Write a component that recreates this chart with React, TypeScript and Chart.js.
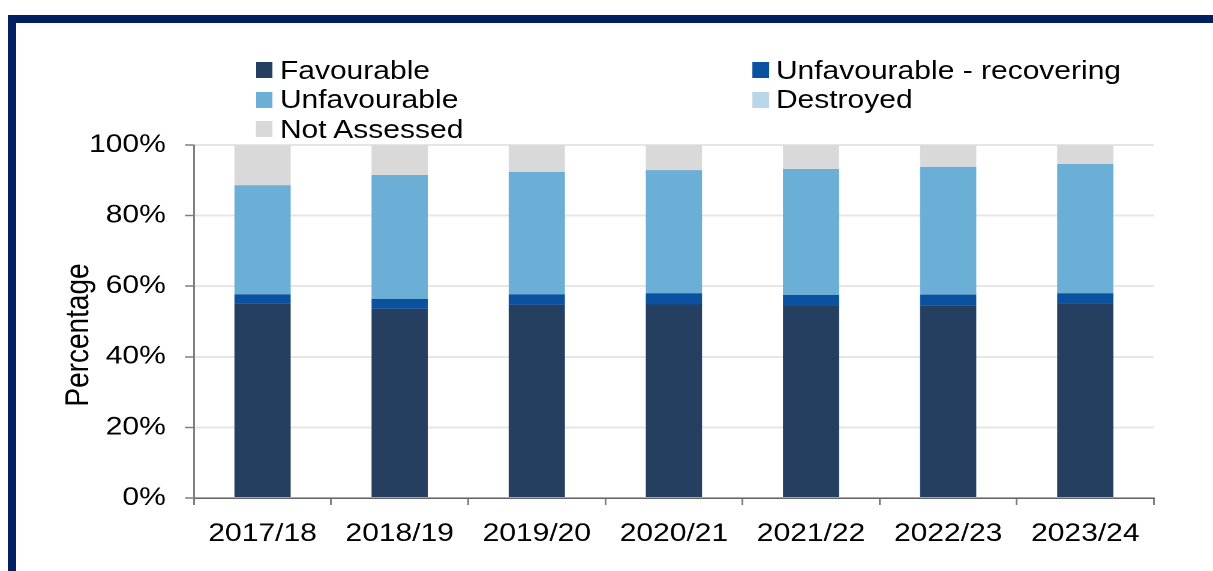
import React, { useEffect, useRef } from "react";
import { Chart, registerables } from "chart.js";

Chart.register(...registerables);

const categories = ["2017/18", "2018/19", "2019/20", "2020/21", "2021/22", "2022/23", "2023/24"];
const favourable = [55.0, 53.6, 54.7, 54.8, 54.4, 54.6, 55.2];
const unfavourableRecovering = [2.7, 2.8, 3.0, 3.2, 3.1, 3.0, 2.8];
const unfavourable = [30.9, 35.1, 34.7, 34.9, 35.7, 36.2, 36.6];
const destroyed = [0, 0, 0, 0, 0, 0, 0];
const notAssessed = [11.4, 8.5, 7.6, 7.1, 6.8, 6.2, 5.4];
const yTickValues = [0, 20, 40, 60, 80, 100];
const yTitle = "Percentage";

const seriesNames = ["Favourable", "Unfavourable - recovering", "Unfavourable", "Destroyed", "Not Assessed"];
const seriesColors = ["#253F60", "#0A51A0", "#6BAED6", "#B9D6EA", "#D9D9D9"];

const STRETCH = 1213 / 1011;
const FONT = "'Liberation Sans', Arial, sans-serif";

const yTitlePlugin = {
  id: "yTitlePlugin",
  afterDraw(chart: any) {
    const ctx = chart.ctx;
    ctx.save();
    ctx.translate(65.8, 335);
    ctx.rotate(-Math.PI / 2);
    ctx.font = `28px ${FONT}`;
    ctx.fillStyle = "#000";
    ctx.textAlign = "center";
    ctx.textBaseline = "middle";
    ctx.fillText(yTitle, 0, 0);
    ctx.restore();
  },
};

export default function App() {
  const canvasRef = useRef<HTMLCanvasElement | null>(null);

  useEffect(() => {
    if (!canvasRef.current) return;
    const series = [favourable, unfavourableRecovering, unfavourable, destroyed, notAssessed];
    const chart = new Chart(canvasRef.current, {
      type: "bar",
      data: {
        labels: categories,
        datasets: series.map((d, i) => ({
          label: seriesNames[i],
          data: d,
          backgroundColor: seriesColors[i],
          borderWidth: 0,
          barPercentage: 0.41,
          categoryPercentage: 1,
        })),
      },
      options: {
        animation: false,
        responsive: true,
        maintainAspectRatio: false,
        devicePixelRatio: 2,
        layout: { padding: { top: 145, right: 49.3, bottom: 10, left: 0 } },
        plugins: { legend: { display: false }, tooltip: { enabled: false } },
        scales: {
          x: {
            stacked: true,
            grid: {
              offset: true,
              drawOnChartArea: false,
              tickLength: 7,
              color: "#7f7f7f",
              lineWidth: 1.5,
            },
            border: { color: "#666", width: 1.5 },
            ticks: {
              color: "#000",
              padding: 14,
              font: { family: FONT, size: 25 },
              maxRotation: 0,
            },
            afterFit: (s: any) => {
              s.height = 63;
            },
          },
          y: {
            stacked: true,
            min: 0,
            max: 100,
            afterBuildTicks: (s: any) => {
              s.ticks = yTickValues.map((v) => ({ value: v }));
            },
            grid: {
              color: "#e6e6e6",
              lineWidth: 2,
              tickLength: 7.5,
              tickColor: "#7f7f7f",
              tickWidth: 1.5,
            },
            border: { color: "#7f7f7f", width: 1.5 },
            ticks: {
              color: "#000",
              padding: 16,
              font: { family: FONT, size: 25 },
              callback: (v: any) => `${v}%`,
            },
            afterFit: (s: any) => {
              s.width = 161.67;
            },
          },
        },
      },
      plugins: [yTitlePlugin],
    });
    return () => chart.destroy();
  }, []);

  const legendCols = [213.3, 626.7];
  const legendRows = [55.5, 85, 114.5];

  return (
    <>
      <div
        style={{
          position: "fixed",
          left: 8,
          top: 15,
          right: 0,
          bottom: 0,
          borderTop: "8px solid #002060",
          borderLeft: "8px solid #002060",
          background: "#fff",
        }}
      />
      <div
        style={{
          position: "fixed",
          left: 0,
          top: 0,
          width: 1011,
          height: 571,
          transform: `scaleX(${STRETCH})`,
          transformOrigin: "0 0",
        }}
      >
        <canvas ref={canvasRef} />
        {seriesNames.map((name, i) => {
          const col = i % 2;
          const row = Math.floor(i / 2);
          return (
            <div
              key={name}
              style={{
                position: "absolute",
                left: legendCols[col],
                top: legendRows[row],
                height: 29.5,
                fontFamily: FONT,
                fontSize: 25,
                lineHeight: "29.5px",
                color: "#000",
                whiteSpace: "nowrap",
              }}
            >
              <span
                style={{
                  position: "absolute",
                  left: 0,
                  top: 6.5,
                  width: 14,
                  height: 16,
                  background: seriesColors[i],
                }}
              />
              <span style={{ position: "absolute", left: 20, top: 0 }}>{name}</span>
            </div>
          );
        })}
      </div>
    </>
  );
}
